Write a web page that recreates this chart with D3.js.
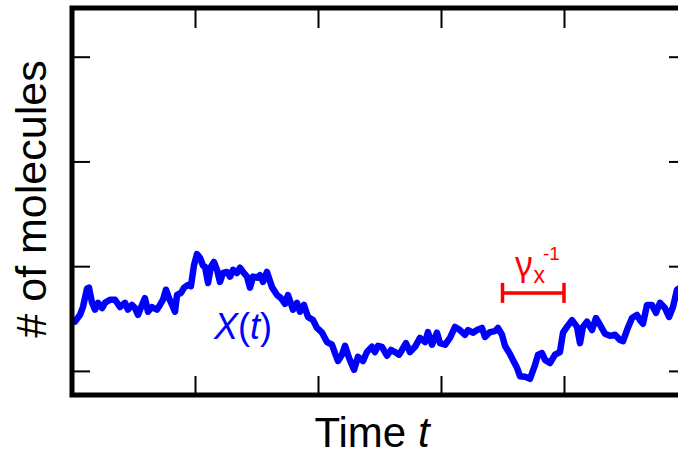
<!DOCTYPE html>
<html>
<head>
<meta charset="utf-8">
<script src="https://cdn.jsdelivr.net/npm/d3@7"></script>
<style>
  body { margin: 0; background: #fff; }
  svg { display: block; font-family: "Liberation Sans", Arial, sans-serif; }
</style>
</head>
<body>
<div id="chart"></div>
<script>
const times = [0.024, 0.065, 0.089, 0.122, 0.138, 0.163, 0.187, 0.211, 0.244, 0.268, 0.309, 0.350, 0.390, 0.431, 0.455, 0.488, 0.512, 0.537, 0.569, 0.593,
  0.618, 0.650, 0.691, 0.715, 0.740, 0.764, 0.789, 0.821, 0.837, 0.854, 0.886, 0.911, 0.943, 0.967, 0.992, 1.016, 1.041, 1.065, 1.081, 1.106,
  1.130, 1.154, 1.179, 1.203, 1.228, 1.260, 1.285, 1.309, 1.341, 1.366, 1.390, 1.423, 1.447, 1.472, 1.504, 1.528, 1.553, 1.585, 1.626, 1.667,
  1.699, 1.732, 1.756, 1.797, 1.829, 1.854, 1.886, 1.919, 1.959, 1.992, 2.033, 2.073, 2.114, 2.138, 2.163, 2.195, 2.220, 2.252, 2.293, 2.325,
  2.366, 2.398, 2.439, 2.463, 2.488, 2.520, 2.561, 2.593, 2.626, 2.659, 2.683, 2.715, 2.748, 2.789, 2.829, 2.870, 2.894, 2.927, 2.967, 2.992,
  3.033, 3.073, 3.114, 3.154, 3.195, 3.220, 3.260, 3.293, 3.333, 3.358, 3.398, 3.439, 3.463, 3.496, 3.520, 3.561, 3.585, 3.618, 3.642, 3.683,
  3.724, 3.764, 3.789, 3.821, 3.846, 3.886, 3.927, 3.967, 3.992, 4.024, 4.065, 4.106, 4.130, 4.154, 4.187, 4.228, 4.260, 4.293, 4.333, 4.374,
  4.415, 4.455, 4.480, 4.512, 4.553, 4.593, 4.618, 4.642, 4.675, 4.715, 4.748, 4.780, 4.821, 4.854, 4.886, 4.919, 4.967];
const molecules = [29.4, 30.7, 32.2, 35.7, 35.9, 33.0, 31.7, 33.0, 32.0, 33.0, 33.6, 33.6, 32.2, 33.0, 31.7, 32.6, 32.0, 30.7, 32.6, 33.9,
  31.3, 32.2, 31.7, 32.6, 33.6, 35.5, 33.9, 32.2, 31.3, 34.5, 34.9, 35.9, 36.4, 36.2, 40.2, 42.3, 41.6, 40.1, 39.9, 36.8,
  39.9, 40.8, 39.3, 37.0, 38.7, 38.9, 38.0, 39.3, 38.7, 39.7, 38.9, 38.0, 35.9, 38.0, 37.8, 38.3, 37.0, 38.9, 36.0, 34.5,
  33.9, 32.8, 34.5, 31.7, 33.0, 31.3, 32.6, 30.3, 29.7, 28.2, 27.3, 25.5, 25.0, 23.4, 21.9, 23.1, 24.8, 22.5, 20.2, 22.7,
  21.9, 23.6, 24.6, 23.6, 24.8, 24.6, 22.9, 24.0, 23.6, 23.1, 24.0, 25.3, 23.6, 24.6, 26.3, 25.5, 27.4, 25.0, 27.3, 25.3,
  25.0, 26.3, 28.4, 27.8, 26.9, 27.8, 27.3, 27.8, 28.2, 26.5, 27.4, 27.6, 28.2, 26.9, 24.8, 23.2, 22.1, 20.6, 19.0, 18.9,
  18.5, 21.1, 23.1, 23.4, 22.1, 21.5, 23.1, 23.6, 27.3, 28.4, 29.7, 28.4, 25.3, 28.4, 29.4, 27.8, 30.1, 28.8, 27.1, 26.7,
  26.9, 25.9, 25.7, 27.8, 30.1, 30.7, 29.7, 29.0, 32.6, 32.6, 31.1, 33.0, 32.0, 30.3, 32.2, 35.5, 36.2];

const xTicks = [1, 2, 3, 4];
const yTicks = [20, 40, 60, 80];
const xDomain = [0, 5];
const yDomain = [15.4, 89.3];

// correlation-time bar: gamma_x^-1
const gammaStart = [3.5];
const gammaEnd = [4.0];
const gammaLevel = [34.9];

const W = 678, H = 456;
const margin = {left: 72, top: 8, right: -9, bottom: 61};
const iw = W - margin.left - margin.right;
const ih = H - margin.top - margin.bottom;

const svg = d3.select('#chart').append('svg').attr('width', W).attr('height', H);
const g = svg.append('g').attr('transform', `translate(${margin.left},${margin.top})`);

const x = d3.scaleLinear().domain(xDomain).range([0, iw]);
const y = d3.scaleLinear().domain(yDomain).range([ih, 0]);

// inward ticks on all four sides, no labels
function styleAxis(sel) {
  sel.select('.domain').remove();
  sel.selectAll('.tick line').attr('stroke', '#000').attr('stroke-width', 2);
}
g.append('g').attr('transform', `translate(0,${ih})`)
  .call(d3.axisBottom(x).tickValues(xTicks).tickSize(-19).tickFormat('')).call(styleAxis);
g.append('g')
  .call(d3.axisTop(x).tickValues(xTicks).tickSize(-20).tickFormat('')).call(styleAxis);
g.append('g')
  .call(d3.axisLeft(y).tickValues(yTicks).tickSize(-18).tickFormat('')).call(styleAxis);
g.append('g').attr('transform', `translate(${iw},0)`)
  .call(d3.axisRight(y).tickValues(yTicks).tickSize(-18).tickFormat('')).call(styleAxis);

// the trajectory
const pts = times.map((t, i) => [t, molecules[i]]);
g.append('path')
  .datum(pts)
  .attr('fill', 'none')
  .attr('stroke', '#0000ff')
  .attr('stroke-width', 6.5)
  .attr('stroke-linejoin', 'round')
  .attr('stroke-linecap', 'round')
  .attr('d', d3.line().x(d => x(d[0])).y(d => y(d[1])));

// frame
g.append('rect')
  .attr('width', iw).attr('height', ih)
  .attr('fill', 'none').attr('stroke', '#000').attr('stroke-width', 5);

// gamma bar
const gy = y(gammaLevel[0]);
const bar = g.append('g').attr('stroke', '#ff0000').attr('stroke-width', 3.5);
bar.append('line').attr('x1', x(gammaStart[0])).attr('x2', x(gammaEnd[0])).attr('y1', gy).attr('y2', gy);
bar.append('line').attr('x1', x(gammaStart[0])).attr('x2', x(gammaStart[0])).attr('y1', gy - 10).attr('y2', gy + 10);
bar.append('line').attr('x1', x(gammaEnd[0])).attr('x2', x(gammaEnd[0])).attr('y1', gy - 10).attr('y2', gy + 10);

const gl = svg.append('text').attr('x', 515).attr('y', 276).attr('fill', '#ff0000').attr('font-size', 34);
gl.append('tspan').attr('font-family', '"Noto Sans", "DejaVu Sans", sans-serif').text('γ');
gl.append('tspan').attr('font-size', 23).attr('dx', 1).attr('dy', 7).text('x');
gl.append('tspan').attr('font-size', 19).attr('dx', -2).attr('dy', -23).text('-1');

// X(t) label
const xl = svg.append('text').attr('x', 214).attr('y', 339).attr('fill', '#0000ff').attr('font-size', 36);
xl.append('tspan').attr('font-style', 'italic').text('X');
xl.append('tspan').text('(');
xl.append('tspan').attr('font-style', 'italic').text('t');
xl.append('tspan').text(')');

// axis titles
const xt = svg.append('text').attr('x', 372).attr('y', 447).attr('text-anchor', 'middle').attr('font-size', 42);
xt.append('tspan').text('Time ');
xt.append('tspan').attr('font-style', 'italic').text('t');

svg.append('text')
  .attr('transform', 'translate(46,199) rotate(-90)')
  .attr('text-anchor', 'middle')
  .attr('font-size', 43)
  .text('# of molecules');
</script>
</body>
</html>
